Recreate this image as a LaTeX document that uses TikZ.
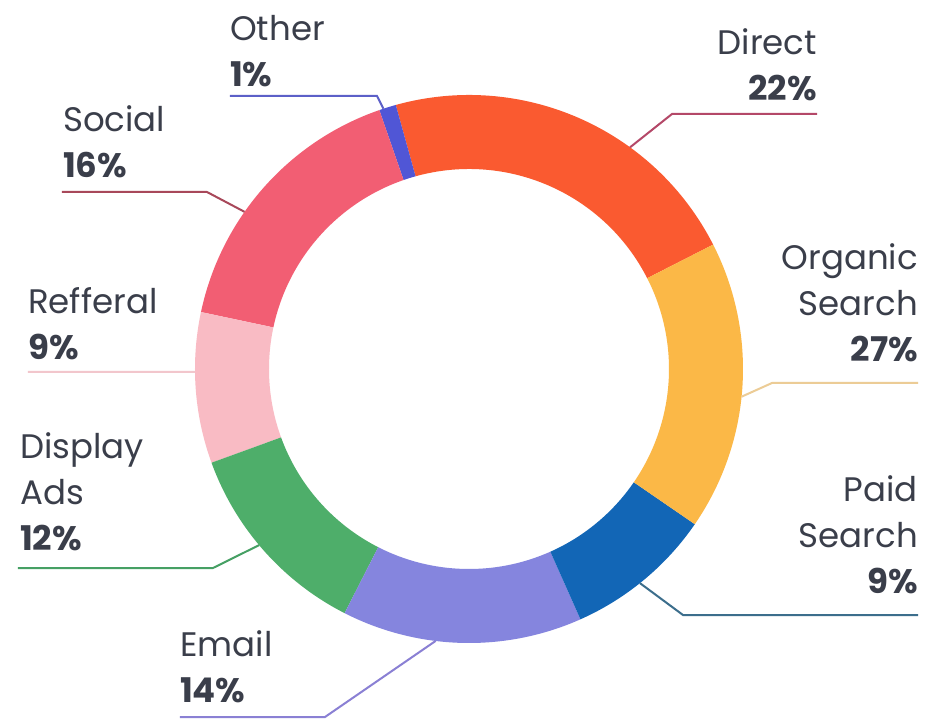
\documentclass[tikz,border=0pt]{standalone}
\usepackage{fontspec}
\setmainfont{Poppins}
\definecolor{directc}{RGB}{250,90,48}
\definecolor{organicc}{RGB}{251,184,71}
\definecolor{paidc}{RGB}{18,102,182}
\definecolor{emailc}{RGB}{133,133,222}
\definecolor{displayc}{RGB}{78,174,106}
\definecolor{refc}{RGB}{249,187,196}
\definecolor{socialc}{RGB}{242,94,115}
\definecolor{otherc}{RGB}{80,86,214}
\definecolor{labeltext}{RGB}{58,62,74}
\definecolor{directl}{RGB}{180,72,104}
\definecolor{organicl}{RGB}{236,204,150}
\definecolor{paidl}{RGB}{60,110,140}
\definecolor{emaill}{RGB}{138,128,212}
\definecolor{displayl}{RGB}{70,160,100}
\definecolor{refl}{RGB}{242,198,204}
\definecolor{sociall}{RGB}{168,72,90}
\definecolor{otherl}{RGB}{92,96,200}

\begin{document}
\begin{tikzpicture}[x=1pt, y=1pt,
  lbl/.style={text=labeltext, inner sep=0pt, font=\fontsize{34}{46}\selectfont},
  leader/.style={line width=2pt}]
\fill[white] (-469,-351) rectangle (468,369);

% Ring segments
\foreach \a/\b/\col in {27/105.5/directc, 105.5/109.1/otherc, 109.1/168/socialc,
    168/200/refc, 200/243/displayc, 243/294/emailc, 294/325.5/paidc, 325.5/387/organicc} {
    \fill[\col] (\a:274pt) arc[start angle=\a, end angle=\b, radius=274pt]
        -- (\b:200pt) arc[start angle=\b, end angle=\a, radius=200pt] -- cycle;
}

% Labels, left side
\node[lbl, anchor=north west, align=left] (other) at (-239,354) {Other\\\textbf{1\%}};
\node[lbl, anchor=north west, align=left] (social) at (-406,264) {Social\\\textbf{16\%}};
\node[lbl, anchor=north west, align=left] (refferal) at (-441,82) {Refferal\\\textbf{9\%}};
\node[lbl, anchor=north west, align=left] (display) at (-449,-63) {Display\\Ads\\\textbf{12\%}};
\node[lbl, anchor=north west, align=left] (email) at (-289,-261) {Email\\\textbf{14\%}};

% Labels, right side
\node[lbl, anchor=north east, align=right] (direct) at (348,341) {Direct\\\textbf{22\%}};
\node[lbl, anchor=north east, align=right] (organic) at (449,126) {Organic\\Search\\\textbf{27\%}};
\node[lbl, anchor=north east, align=right] (paid) at (449,-106) {Paid\\Search\\\textbf{9\%}};

% Leader line points
\coordinate (other-a) at (-239,273);   \coordinate (other-b) at (-92,273);   \coordinate (other-r) at (108.2:274pt);
\coordinate (social-a) at (-407,177);  \coordinate (social-b) at (-262,177); \coordinate (social-r) at (145:274pt);
\coordinate (ref-a) at (-441,-3);      \coordinate (ref-r) at (180.6:274pt);
\coordinate (display-a) at (-451,-199);\coordinate (display-b) at (-256,-199);\coordinate (display-r) at (-140:274pt);
\coordinate (email-a) at (-289,-348);  \coordinate (email-b) at (-144,-348); \coordinate (email-r) at (-97:274pt);
\coordinate (direct-a) at (348,255);   \coordinate (direct-b) at (203,255);  \coordinate (direct-r) at (54:274pt);
\coordinate (organic-a) at (449,-14);  \coordinate (organic-b) at (303,-14); \coordinate (organic-r) at (-5.8:274pt);
\coordinate (paid-a) at (449,-246);    \coordinate (paid-b) at (214,-246);   \coordinate (paid-r) at (-51.4:274pt);

% Leader lines
\draw[leader, otherl] (other-a) -- (other-b) -- (other-r);
\draw[leader, sociall] (social-a) -- (social-b) -- (social-r);
\draw[leader, refl] (ref-a) -- (ref-r);
\draw[leader, displayl] (display-a) -- (display-b) -- (display-r);
\draw[leader, emaill] (email-a) -- (email-b) -- (email-r);
\draw[leader, directl] (direct-a) -- (direct-b) -- (direct-r);
\draw[leader, organicl] (organic-a) -- (organic-b) -- (organic-r);
\draw[leader, paidl] (paid-a) -- (paid-b) -- (paid-r);
\end{tikzpicture}
\end{document}
